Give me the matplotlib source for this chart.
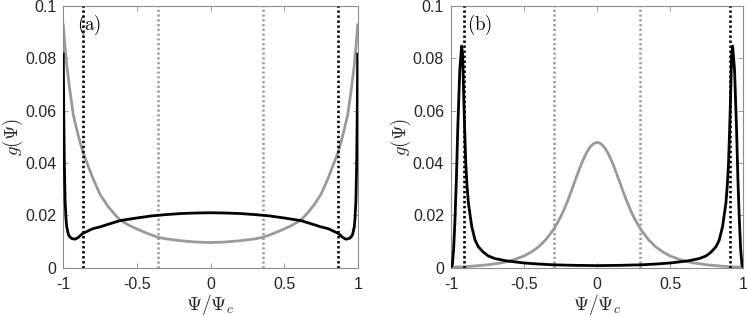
import matplotlib
matplotlib.use("Agg")
import matplotlib.pyplot as plt

# ---------- data ----------
# Panel (a)
a_black_x = [-1.0, -0.997, -0.993, -0.988, -0.982, -0.977, -0.966, -0.955, -0.94, -0.919,
             -0.9, -0.868, -0.8, -0.75, -0.7, -0.614, -0.5, -0.4, -0.3, -0.2, -0.1, 0.0,
             0.1, 0.2, 0.3, 0.4, 0.5, 0.614, 0.7, 0.75, 0.8, 0.868, 0.9, 0.919, 0.94,
             0.955, 0.966, 0.977, 0.982, 0.988, 0.993, 0.997, 1.0]
a_black_y = [0.0816, 0.060, 0.040, 0.026, 0.019, 0.0157, 0.0128, 0.0117, 0.0111, 0.0109,
             0.0115, 0.0131, 0.0149, 0.0156, 0.0165, 0.0180, 0.0190, 0.0198, 0.0203, 0.0207, 0.0209, 0.0210,
             0.0209, 0.0207, 0.0203, 0.0198, 0.0190, 0.0180, 0.0165, 0.0156, 0.0149, 0.0131, 0.0115, 0.0109, 0.0111,
             0.0117, 0.0128, 0.0157, 0.019, 0.026, 0.040, 0.060, 0.0816]
a_gray_x = [-1.0, -0.99, -0.977, -0.955, -0.932, -0.9, -0.868, -0.8, -0.75, -0.7, -0.65, -0.614,
            -0.55, -0.5, -0.45, -0.41, -0.357, -0.3, -0.2, -0.1, 0.0, 0.1, 0.2, 0.3, 0.357, 0.41,
            0.45, 0.5, 0.55, 0.614, 0.65, 0.7, 0.75, 0.8, 0.868, 0.9, 0.932, 0.955, 0.977, 0.99, 1.0]
a_gray_y = [0.0928, 0.0855, 0.0775, 0.0676, 0.0584, 0.0508, 0.0443, 0.0343, 0.0280, 0.0237, 0.0203, 0.0182,
            0.0161, 0.0148, 0.0136, 0.0127, 0.0116, 0.0110, 0.0103, 0.0098, 0.0096, 0.0098, 0.0103, 0.0110, 0.0116, 0.0127,
            0.0136, 0.0148, 0.0161, 0.0182, 0.0203, 0.0237, 0.0280, 0.0343, 0.0443, 0.0508, 0.0584, 0.0676, 0.0775, 0.0855, 0.0928]
a_black_vlines = [-0.868, 0.868]
a_gray_vlines = [-0.357, 0.357]

# Panel (b)
b_black_x = [-1.0, -0.991, -0.982, -0.973, -0.963, -0.954, -0.94, -0.927, -0.92, -0.913, -0.906,
             -0.899, -0.89, -0.881, -0.858, -0.835, -0.813, -0.78, -0.745, -0.7, -0.62, -0.5,
             -0.4, -0.3, -0.15, 0.0, 0.15, 0.3, 0.4, 0.5, 0.62, 0.7, 0.745, 0.78, 0.813, 0.835,
             0.858, 0.881, 0.89, 0.899, 0.906, 0.913, 0.92, 0.927, 0.94, 0.954, 0.963, 0.973,
             0.982, 0.991, 1.0]
b_black_y = [0.0003, 0.001, 0.007, 0.018, 0.034, 0.0526, 0.0756, 0.0847, 0.081, 0.0654, 0.052,
             0.040, 0.031, 0.0247, 0.0157, 0.0105, 0.008, 0.006, 0.0045, 0.0035, 0.0026, 0.0018,
             0.0014, 0.0011, 0.0009, 0.0008, 0.0009, 0.0011, 0.0014, 0.0018, 0.0026, 0.0035, 0.0045,
             0.006, 0.008, 0.0105, 0.0157, 0.0247, 0.031, 0.040, 0.052, 0.0654, 0.081, 0.0847,
             0.0756, 0.0526, 0.034, 0.018, 0.007, 0.001, 0.0003]
b_gray_x = [-1.0, -0.93, -0.85, -0.75, -0.65, -0.566, -0.5, -0.45, -0.4, -0.35, -0.3, -0.275, -0.25,
            -0.225, -0.2, -0.175, -0.15, -0.125, -0.1, -0.075, -0.05, -0.025, 0.0,
            0.025, 0.05, 0.075, 0.1, 0.125, 0.15, 0.175, 0.2, 0.225, 0.25, 0.275, 0.3,
            0.35, 0.4, 0.45, 0.5, 0.566, 0.65, 0.75, 0.85, 0.93, 1.0]
b_gray_y = [0.0002, 0.0003, 0.0006, 0.0011, 0.0019, 0.0031, 0.0045, 0.0060, 0.0080, 0.0108, 0.0145, 0.0168, 0.0194,
            0.0224, 0.0258, 0.0295, 0.0334, 0.0372, 0.0407, 0.0437, 0.0460, 0.0474, 0.0479,
            0.0474, 0.0460, 0.0437, 0.0407, 0.0372, 0.0334, 0.0295, 0.0258, 0.0224, 0.0194, 0.0168, 0.0145,
            0.0108, 0.0080, 0.0060, 0.0045, 0.0031, 0.0019, 0.0011, 0.0006, 0.0003, 0.0002]
b_black_vlines = [-0.909, 0.909]
b_gray_vlines = [-0.295, 0.295]

xticks = [-1, -0.5, 0, 0.5, 1]
xtick_labels = ["-1", "-0.5", "0", "0.5", "1"]
yticks = [0, 0.02, 0.04, 0.06, 0.08, 0.1]
ytick_labels = ["0", "0.02", "0.04", "0.06", "0.08", "0.1"]
panel_labels = ["(a)", "(b)"]

# ---------- style ----------
plt.rcParams["mathtext.fontset"] = "cm"
plt.rcParams["font.family"] = ["Liberation Sans", "DejaVu Sans"]

GRAY = "#9a9a9a"
SPINE = "#8c8c8c"
TXT = "#262626"

fig = plt.figure(figsize=(7.47, 3.17), dpi=100)
ax_a = fig.add_axes([63.3 / 747, 1 - 267.7 / 317, 294.4 / 747, 261.7 / 317])
ax_b = fig.add_axes([451.0 / 747, 1 - 267.7 / 317, 292.3 / 747, 261.7 / 317])

panels = [
    (ax_a, a_black_x, a_black_y, a_gray_x, a_gray_y, a_black_vlines, a_gray_vlines),
    (ax_b, b_black_x, b_black_y, b_gray_x, b_gray_y, b_black_vlines, b_gray_vlines),
]
label_x = [0.045, 0.054]

for i, (ax, bx, by, gx, gy, bv, gv) in enumerate(panels):
    for v in gv:
        ax.axvline(v, color=GRAY, lw=1.8, ls=(0, (0.9, 1.0)), zorder=1)
    ax.plot(gx, gy, color=GRAY, lw=2.0, zorder=2, solid_joinstyle="round")
    ax.plot(bx, by, color="black", lw=2.0, zorder=3, solid_joinstyle="round")
    for v in bv:
        ax.axvline(v, color="black", lw=1.9, ls=(0, (0.9, 1.0)), zorder=4)

    ax.set_xlim(-1, 1)
    ax.set_ylim(0, 0.1)
    ax.set_xticks(xticks)
    ax.set_xticklabels(xtick_labels)
    ax.set_yticks(yticks)
    ax.set_yticklabels(ytick_labels)
    ax.tick_params(direction="in", length=3.5, width=0.6, color=SPINE, labelcolor=TXT,
                   labelsize=11.5, top=True, right=True)
    ax.tick_params(axis="x", pad=7)
    ax.tick_params(axis="y", pad=5)
    for s in ax.spines.values():
        s.set_color(SPINE)
        s.set_linewidth(0.8)
    ax.set_xlabel(r"$\Psi/\Psi_c$", fontsize=14, color=TXT, labelpad=0)
    ax.set_ylabel(r"$g(\Psi)$", fontsize=13.5, color=TXT, labelpad=0)
    ax.text(label_x[i], 0.975, r"$\mathrm{" + panel_labels[i] + "}$",
            transform=ax.transAxes, ha="left", va="top", fontsize=13.5, color="black")

fig.savefig("out.png", dpi=100)
